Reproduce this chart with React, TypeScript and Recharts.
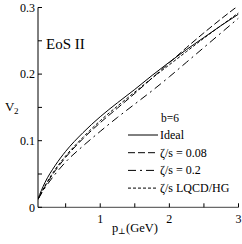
import React from 'react';
import { LineChart, Line, XAxis, YAxis, Customized } from 'recharts';

const pT = [0.1, 0.2, 0.35, 0.5, 0.75, 1.0, 1.25, 1.5, 1.75, 2.0, 2.25, 2.5, 2.75, 3.0];
const ideal = [0.013, 0.037, 0.063, 0.084, 0.112, 0.136, 0.157, 0.177, 0.198, 0.218, 0.237, 0.255, 0.273, 0.29];
const visc008 = [0.012, 0.031, 0.055, 0.075, 0.103, 0.127, 0.149, 0.171, 0.194, 0.217, 0.24, 0.262, 0.283, 0.303];
const visc02 = [0.012, 0.029, 0.05, 0.068, 0.092, 0.114, 0.135, 0.155, 0.175, 0.196, 0.218, 0.24, 0.262, 0.284];
const viscLqcd = [0.012, 0.032, 0.057, 0.077, 0.105, 0.13, 0.152, 0.173, 0.194, 0.214, 0.234, 0.254, 0.273, 0.292];

const xTicks = [0.5, 1, 1.5, 2, 2.5, 3];
const xLabeled = [1, 2, 3];
const yTicks = [0, 0.05, 0.1, 0.15, 0.2, 0.25, 0.3];
const yLabeled = [0, 0.1, 0.2, 0.3];

const legendItems = [
  { name: 'Ideal', dash: undefined as string | undefined },
  { name: 'ζ/s = 0.08', dash: '7 3' },
  { name: 'ζ/s = 0.2', dash: '8 4 2 4' },
  { name: 'ζ/s  LQCD/HG', dash: '3 2' },
];

const data = pT.map((p, i) => ({
  p,
  ideal: ideal[i],
  v008: visc008[i],
  v02: visc02[i],
  lqcd: viscLqcd[i],
}));

const FONT = '"Liberation Serif", "DejaVu Serif", serif';

const Overlay = () => (
  <g fontFamily={FONT} fill="#000">
    <text x={46} y={49} fontSize={15}>EoS II</text>
    <text x={5} y={111} fontSize={13}>V</text>
    <text x={14} y={114} fontSize={9}>2</text>
    <text x={112} y={232} fontSize={12.5}>p</text>
    <text x={118} y={234} fontSize={8}>⊥</text>
    <text x={126} y={232} fontSize={12.5}>(GeV)</text>
    <text x={170} y={122} fontSize={11.5} textAnchor="middle">b=6</text>
    {legendItems.map((it, i) => {
      const y = 135 + i * 17.7;
      return (
        <g key={it.name}>
          <line x1={128} x2={158} y1={y} y2={y} stroke="#000" strokeWidth={1} strokeDasharray={it.dash} />
          <text x={160} y={y + 4} fontSize={12}>{it.name}</text>
        </g>
      );
    })}
  </g>
);

export default function App() {
  return (
    <div style={{ position: 'absolute', left: 0, top: 0, width: 242, height: 244, background: '#fff', fontFamily: FONT }}>
      <LineChart
        width={242}
        height={244}
        data={data}
        margin={{ top: 7.5, right: 3.5, left: 0, bottom: 0 }}
        style={{ fontFamily: FONT }}
      >
        <XAxis
          xAxisId="b"
          dataKey="p"
          type="number"
          domain={[0.1, 3]}
          ticks={xTicks}
          tickFormatter={(v: number) => (xLabeled.includes(v) ? String(v) : '')}
          height={36.7}
          tickSize={-4}
          tickMargin={11}
          axisLine={{ stroke: '#444', strokeWidth: 1 }}
          tickLine={{ stroke: '#000' }}
          tick={{ fontSize: 12, fill: '#000', fontFamily: FONT }}
          allowDataOverflow
        />
        <XAxis
          xAxisId="t"
          orientation="top"
          dataKey="p"
          type="number"
          domain={[0.1, 3]}
          ticks={xTicks}
          height={0}
          tickSize={-4}
          tick={false}
          axisLine={{ stroke: '#888', strokeWidth: 1.5 }}
          tickLine={{ stroke: '#000' }}
          allowDataOverflow
        />
        <YAxis
          yAxisId="l"
          type="number"
          domain={[0, 0.3]}
          ticks={yTicks}
          tickFormatter={(v: number) => (yLabeled.includes(v) ? String(v) : '')}
          width={38}
          tickSize={-4}
          tickMargin={7}
          axisLine={{ stroke: '#000', strokeWidth: 1 }}
          tickLine={{ stroke: '#000' }}
          tick={{ fontSize: 12, fill: '#000', fontFamily: FONT }}
          allowDataOverflow
        />
        <YAxis
          yAxisId="r"
          orientation="right"
          type="number"
          domain={[0, 0.3]}
          ticks={yTicks}
          width={0}
          tickSize={-4}
          tick={false}
          axisLine={{ stroke: '#000', strokeWidth: 1 }}
          tickLine={{ stroke: '#000' }}
          allowDataOverflow
        />
        <Line xAxisId="b" yAxisId="l" dataKey="ideal" type="monotone" stroke="#000" strokeWidth={1} dot={false} isAnimationActive={false} />
        <Line xAxisId="b" yAxisId="l" dataKey="v008" type="monotone" stroke="#000" strokeWidth={1} strokeDasharray="7 3" dot={false} isAnimationActive={false} />
        <Line xAxisId="b" yAxisId="l" dataKey="v02" type="monotone" stroke="#000" strokeWidth={1} strokeDasharray="8 4 2 4" dot={false} isAnimationActive={false} />
        <Line xAxisId="b" yAxisId="l" dataKey="lqcd" type="monotone" stroke="#000" strokeWidth={1} strokeDasharray="3 2" dot={false} isAnimationActive={false} />
        <Customized component={Overlay} />
      </LineChart>
    </div>
  );
}
